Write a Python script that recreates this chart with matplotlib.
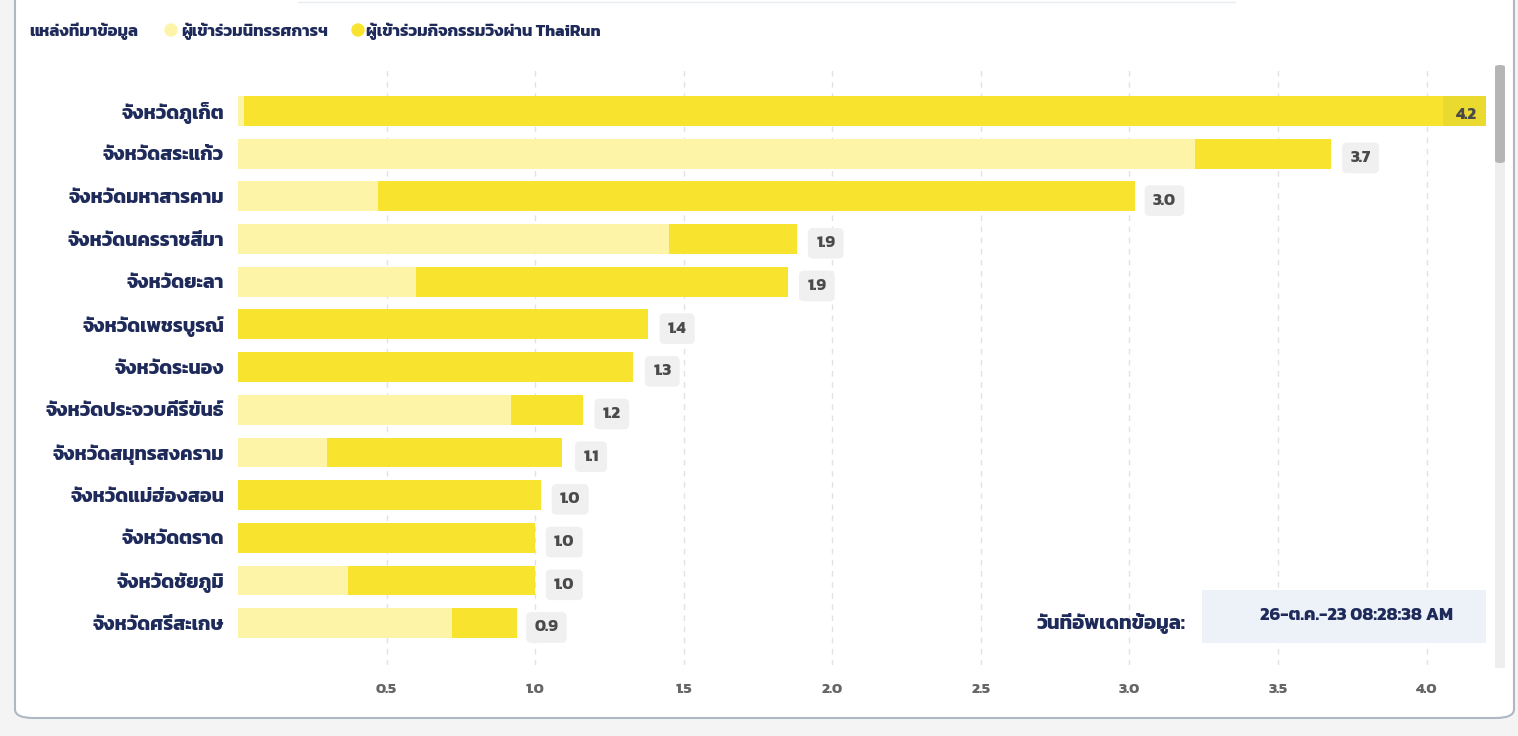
import matplotlib
matplotlib.use('Agg')
import matplotlib.pyplot as plt
from matplotlib.patches import FancyBboxPatch, Rectangle, Ellipse

provinces = ['จังหวัดภูเก็ต', 'จังหวัดสระแก้ว', 'จังหวัดมหาสารคาม', 'จังหวัดนครราชสีมา',
             'จังหวัดยะลา', 'จังหวัดเพชรบูรณ์', 'จังหวัดระนอง', 'จังหวัดประจวบคีรีขันธ์',
             'จังหวัดสมุทรสงคราม', 'จังหวัดแม่ฮ่องสอน', 'จังหวัดตราด', 'จังหวัดชัยภูมิ',
             'จังหวัดศรีสะเกษ']
exhibition = [0.02, 3.22, 0.47, 1.45, 0.60, 0.0, 0.0, 0.92, 0.30, 0.0, 0.0, 0.37, 0.72]
thairun = [4.18, 0.46, 2.55, 0.43, 1.25, 1.38, 1.33, 0.24, 0.79, 1.02, 1.00, 0.63, 0.22]
xticks = [0.5, 1.0, 1.5, 2.0, 2.5, 3.0, 3.5, 4.0]

legend_title = 'แหล่งที่มาข้อมูล'
series_names = ['ผู้เข้าร่วมนิทรรศการฯ', 'ผู้เข้าร่วมกิจกรรมวิ่งผ่าน ThaiRun']
update_label = 'วันที่อัพเดทข้อมูล:'
update_value = '26-ต.ค.-23 08:28:38 AM'

plt.rcParams['font.family'] = ['Kanit', 'Noto Sans Thai', 'DejaVu Sans']

navy = '#1E2A5A'
light = '#FDF4A8'
dark = '#F8E42E'

W, H = 1518, 736
fig = plt.figure(figsize=(W / 100, H / 100), dpi=100)
fig.patch.set_facecolor('#F4F4F4')

# card behind everything
card = FancyBboxPatch((15 / W, 18 / H), 1499 / W, 740 / H,
                      boxstyle='round,pad=0,rounding_size=0.012',
                      transform=fig.transFigure, facecolor='white',
                      edgecolor='#AEB7C4', linewidth=1.5, zorder=-5)
fig.patches.append(card)
# bottom edge of the header box above
fig.lines.append(plt.Line2D([298 / W, 1235 / W], [1 - 1.5 / H, 1 - 1.5 / H],
                            transform=fig.transFigure, color='#E8EBF0', linewidth=1))

ax = fig.add_axes([238 / W, (H - 665) / H, 1248 / W, 595 / H])
ax.set_facecolor('none')
ax.set_zorder(1)

y = list(range(len(provinces)))
total = [a + b for a, b in zip(exhibition, thairun)]
ax.barh(y, exhibition, height=0.7, color=light, zorder=2)
ax.barh(y, thairun, left=exhibition, height=0.7, color=dark, zorder=2)

xmax = 4.2
for i, t in enumerate(total):
    if t > xmax - 0.3:
        ax.barh(i, 0.145, left=xmax - 0.145, height=0.7, color='#EAD92E', zorder=3)
        ax.text(xmax - 0.03, i + 0.1, f'{t:.1f}', ha='right', va='center',
                fontsize=12, fontweight='bold', color='#4A4A4A', zorder=4)
    else:
        ax.text(t + 0.098, i + 0.1, f'{t:.1f}', ha='center', va='center',
                fontsize=12, fontweight='bold', color='#4A4A4A', zorder=4,
                bbox=dict(boxstyle='round,pad=0.5,rounding_size=0.3', fc='#F0F0F0', ec='none'))

ax.set_xlim(0, xmax)
ax.set_ylim(12.98, -0.96)
ax.set_yticks(y)
ax.set_yticklabels(provinces, fontsize=14, fontweight='bold', color=navy)
ax.set_xticks(xticks)
ax.set_xticklabels([f'{v:.1f}' for v in xticks], fontsize=11, fontweight='bold', color='#666666')
ax.tick_params(axis='both', length=0)
ax.tick_params(axis='x', pad=13)
ax.tick_params(axis='y', pad=10)
for s in ax.spines.values():
    s.set_visible(False)
ax.grid(axis='x', linestyle=(0, (4, 4)), color='#E2E2E2', linewidth=1, zorder=0)

# legend row
fig.text(29 / W, 1 - 31 / H, legend_title, fontsize=12, fontweight='bold', color=navy, va='center')
fig.patches.append(Ellipse((171 / W, 1 - 30 / H), 12 / W, 12 / H, transform=fig.transFigure, color=light))
fig.text(181 / W, 1 - 31 / H, series_names[0], fontsize=12, fontweight='bold', color=navy, va='center')
fig.patches.append(Ellipse((358 / W, 1 - 30 / H), 12 / W, 12 / H, transform=fig.transFigure, color=dark))
fig.text(366 / W, 1 - 31 / H, series_names[1], fontsize=12, fontweight='bold', color=navy, va='center')

# update box
fig.patches.append(Rectangle((1202 / W, 1 - 643 / H), 284 / W, 53 / H,
                             transform=fig.transFigure, facecolor='#EDF1F8', edgecolor='none', zorder=3))
fig.text(1185 / W, 1 - 624 / H, update_label, fontsize=14.5, fontweight='bold', color=navy,
         ha='right', va='center', zorder=4)
fig.text(1357 / W, 1 - 616 / H, update_value, fontsize=13, fontweight='bold', color=navy,
         ha='center', va='center', zorder=4)

# scrollbar
fig.patches.append(Rectangle((1495 / W, 1 - 668 / H), 10 / W, 603 / H,
                             transform=fig.transFigure, facecolor='#EEEEEE', edgecolor='none'))
fig.patches.append(FancyBboxPatch((1495 / W, 1 - 163 / H), 10 / W, 98 / H,
                                  boxstyle='round,pad=0,rounding_size=0.0033',
                                  transform=fig.transFigure, facecolor='#B5B5B5', edgecolor='none'))

fig.savefig('out.png', dpi=100)
